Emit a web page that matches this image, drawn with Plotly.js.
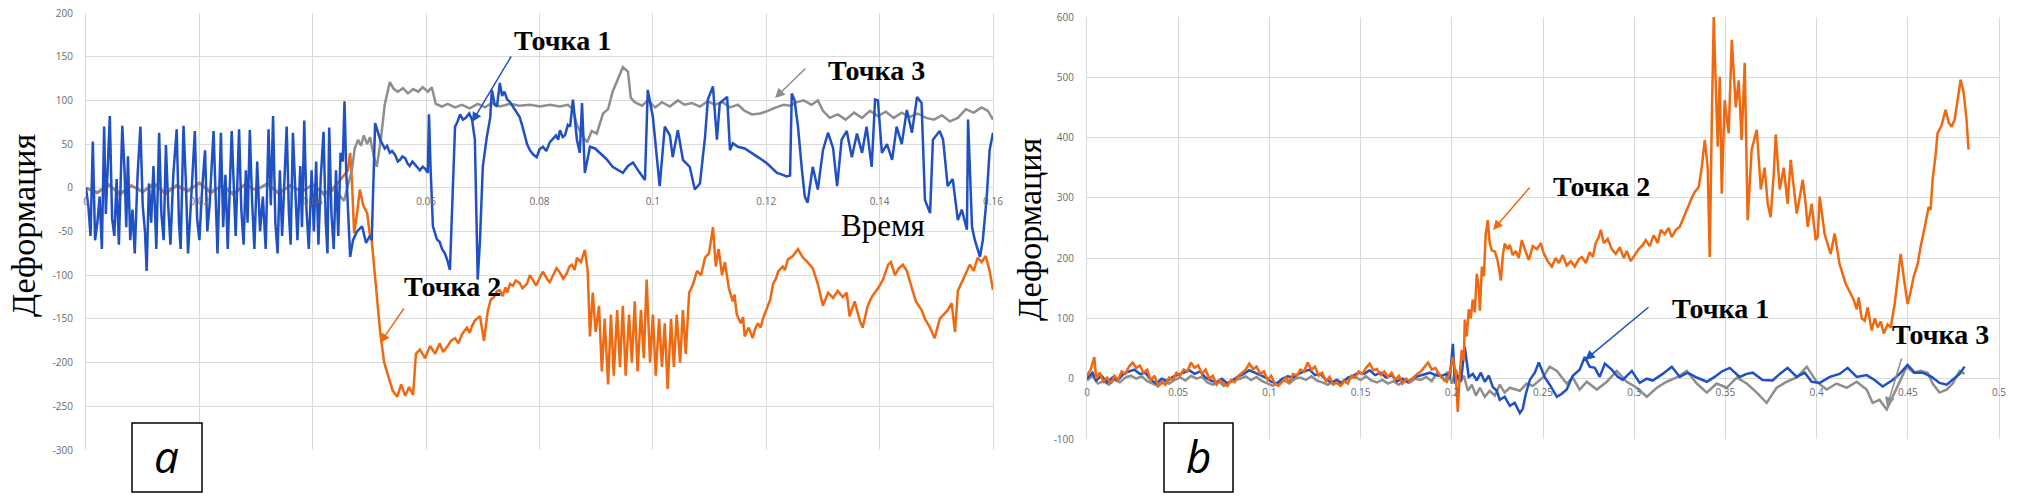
<!DOCTYPE html>
<html>
<head>
<meta charset="utf-8">
<script src="https://cdn.plot.ly/plotly-3.0.1.min.js"></script>
<style>
html,body{margin:0;padding:0;background:#ffffff;}
#chart{width:2020px;height:496px;}
</style>
</head>
<body>
<div id="chart"></div>
<script>
// ---------- Panel a (left): time, deformation ----------
const aPoint1 = [
[0,0],[0.0004,-20],[0.0008,-55],[0.0012,53],[0.0016,-60],[0.0020,-40],[0.0024,-10],[0.0028,-70],[0.0032,70],[0.0035,-30],
[0.0042,82],[0.0046,-35],[0.0050,-55],[0.0054,10],[0.0058,-65],[0.0064,71],[0.0068,20],[0.0071,-45],[0.0074,36],[0.0078,-60],
[0.0082,-25],[0.0086,-75],[0.0091,15],[0.0096,70],[0.0100,-20],[0.0104,-50],[0.0107,-95],[0.0111,5],[0.0115,-40],[0.0119,25],
[0.0124,-70],[0.0129,63],[0.0133,-30],[0.0137,-60],[0.0141,49],[0.0145,-20],[0.0149,-65],[0.0154,15],[0.0160,67],[0.0164,-40],
[0.0167,-70],[0.0172,71],[0.0176,10],[0.0180,-75],[0.0184,-30],[0.0188,20],[0.0192,65],[0.0196,-35],[0.0200,-60],[0.0205,0],
[0.0210,43],[0.0214,-50],[0.0218,-20],[0.0225,65],[0.0229,-10],[0.0232,-75],[0.0238,63],[0.0242,-45],[0.0246,15],[0.0250,-70],
[0.0257,65],[0.0261,5],[0.0264,-55],[0.0270,67],[0.0274,-25],[0.0278,-65],[0.0282,20],[0.0285,-40],[0.0289,66],[0.0293,-15],
[0.0297,-70],[0.0302,30],[0.0307,-50],[0.0312,-10],[0.0317,-70],[0.0322,67],[0.0326,-20],[0.0330,82],[0.0334,-40],[0.0338,-75],
[0.0342,20],[0.0346,-55],[0.0350,10],[0.0354,70],[0.0358,-30],[0.0361,-65],[0.0365,63],[0.0369,-10],[0.0373,-60],[0.0378,25],
[0.0381,-45],[0.0385,77],[0.0389,-25],[0.0393,-70],[0.0398,20],[0.0402,-50],[0.0406,30],[0.0410,-65],[0.0414,10],[0.0419,64],
[0.0423,-40],[0.0426,-75],[0.0429,69],[0.0433,-30],[0.0437,-70],[0.0441,20],[0.0445,-55],[0.0449,40],[0.0453,30],[0.0456,99],
[0.0459,20],[0.0466,-79],[0.0471,-60],[0.0478,-50],[0.0487,-44],[0.0494,-63],[0.0501,-55],[0.0504,-60],[0.0510,74],[0.0519,55],
[0.0523,50],[0.0527,45],[0.0531,48],[0.0536,40],[0.0540,42],[0.0545,38],[0.0550,30],[0.0554,32],[0.0558,36],[0.0563,34],[0.0567,28],
[0.0571,25],[0.0576,30],[0.0580,27],[0.0585,22],[0.0589,20],[0.0594,24],[0.0598,22],[0.0603,17],
[0.0605,84],[0.0608,20],[0.0612,-44],[0.0619,-59],[0.0624,-62],[0.0628,-70],[0.0633,-75],[0.0637,-82],[0.0642,-94],[0.0651,70],[0.0655,75],[0.0660,84],[0.0665,78],[0.0670,80],
[0.0676,85],[0.0681,78],[0.0686,55],[0.0691,-105],[0.0695,-60],[0.0700,24],[0.0707,58],[0.0713,80],[0.0716,112],[0.0721,95],[0.0725,93],
[0.0730,120],[0.0734,105],[0.0738,110],[0.0743,101],[0.0748,98],[0.0753,93],[0.0759,88],[0.0765,81],[0.0770,70],[0.0774,58],[0.0778,50],[0.0783,43],[0.0789,38],[0.0795,35],[0.0800,44],[0.0806,47],[0.0812,42],[0.0818,52],
[0.0823,56],[0.0829,60],[0.0833,55],[0.0836,66],[0.0841,58],[0.0845,60],[0.0850,72],[0.0854,70],[0.0859,101],[0.0866,55],[0.0871,40],[0.0875,97],[0.0880,17],[0.0889,47],
[0.0898,45],[0.0907,40],[0.0918,33],[0.0929,24],[0.0938,20],[0.0947,17],[0.0956,25],[0.0965,29],[0.0976,18],[0.0986,9],[0.0991,112],[0.1000,81],[0.1012,2],[0.1021,70],[0.1030,60],
[0.1035,35],[0.1044,66],[0.1053,32],[0.1065,24],[0.1074,-2],[0.1083,5],[0.1092,58],[0.1097,101],[0.1106,116],[0.1113,55],
[0.1118,97],[0.1131,104],[0.1136,43],[0.1141,51],[0.1150,47],[0.1162,45],[0.1169,42],[0.1176,40],[0.1188,34],[0.1201,28],[0.1210,22],[0.1219,17],[0.1228,15],[0.1236,13],
[0.1242,14],[0.1245,108],[0.1250,100],[0.1256,70],[0.1263,20],[0.1268,-10],[0.1273,-17],[0.1282,24],[0.1291,-2],[0.1300,43],
[0.1309,63],[0.1318,45],[0.1325,2],[0.1333,55],[0.1342,65],[0.1351,35],[0.1360,62],[0.1369,40],[0.1377,70],[0.1386,24],
[0.1392,101],[0.1397,100],[0.1404,40],[0.1413,50],[0.1422,32],[0.1430,70],[0.1439,50],[0.1448,89],[0.1457,63],[0.1466,104],
[0.1474,97],[0.1480,-14],[0.1489,-29],[0.1494,55],[0.1506,65],[0.1512,55],[0.1520,2],[0.1529,10],[0.1538,-37],[0.1545,-25],
[0.1554,-48],[0.1556,78],[0.1563,-45],[0.1568,-60],[0.1577,-79],[0.1582,-60],[0.1589,-10],[0.1594,43],[0.1600,63]
];
const aPoint2 = [
[0,0],[0.002,-6],[0.004,4],[0.006,-8],[0.008,3],[0.010,-5],[0.012,5],[0.014,-7],[0.016,2],[0.018,-4],[0.020,6],[0.022,-6],
[0.024,3],[0.026,-8],[0.028,4],[0.030,-3],[0.032,5],[0.034,-7],[0.036,3],[0.038,-5],[0.040,4],[0.042,-8],[0.044,2],
[0.0462,20],[0.0466,40],[0.0469,10],[0.0473,-52],[0.0478,-30],[0.0483,-2],[0.0489,-20],[0.0496,-29],[0.0501,-55],[0.0504,-60],
[0.0511,-110],[0.0519,-166],[0.0526,-200],[0.0533,-216],[0.0541,-232],[0.0549,-239],[0.0556,-225],[0.0563,-238],[0.0570,-228],
[0.0577,-237],[0.0582,-190],[0.0589,-185],[0.0598,-195],[0.0607,-181],[0.0616,-190],[0.0624,-178],[0.0630,-188],[0.0637,-182],[0.0644,-175],[0.0651,-172],
[0.0657,-178],[0.0663,-168],[0.0668,-164],[0.0672,-160],[0.0677,-166],[0.0681,-158],[0.0686,-152],[0.0690,-150],[0.0695,-147],[0.0702,-175],[0.0709,-140],[0.0714,-128],[0.0720,-125],[0.0725,-118],[0.0730,-117],
[0.0735,-124],[0.0740,-114],[0.0743,-120],[0.0748,-110],[0.0753,-112],[0.0758,-106],[0.0765,-109],[0.0770,-115],[0.0778,-110],[0.0783,-100],[0.0788,-105],[0.0794,-112],[0.0801,-102],[0.0806,-96],[0.0813,-104],[0.0818,-108],[0.0824,-100],[0.0830,-92],[0.0836,-97],
[0.0842,-104],[0.0848,-98],[0.0853,-90],[0.0857,-88],[0.0862,-94],[0.0866,-80],[0.0873,-85],[0.0880,-71],[0.0885,-95],[0.0889,-170],[0.0894,-120],[0.0899,-165],
[0.0905,-135],[0.0910,-210],[0.0915,-150],[0.0921,-225],[0.0926,-145],[0.0931,-215],[0.0937,-140],[0.0942,-205],[0.0947,-135],
[0.0952,-215],[0.0958,-145],[0.0963,-200],[0.0968,-130],[0.0973,-210],[0.0979,-140],[0.0984,-195],[0.0989,-105],[0.0995,-200],
[0.1000,-145],[0.1005,-215],[0.1011,-150],[0.1016,-205],[0.1021,-155],[0.1026,-230],[0.1032,-150],[0.1037,-205],[0.1042,-145],
[0.1048,-200],[0.1053,-140],[0.1058,-190],[0.1064,-120],[0.1071,-110],[0.1078,-95],[0.1085,-100],[0.1092,-80],[0.1099,-75],
[0.1106,-45],[0.1111,-90],[0.1116,-70],[0.1122,-100],[0.1127,-85],[0.1134,-115],[0.1141,-130],[0.1144,-122],[0.1148,-145],[0.1155,-155],[0.1159,-148],
[0.1162,-170],[0.1169,-160],[0.1176,-172],[0.1180,-162],[0.1185,-155],[0.1190,-160],[0.1194,-150],[0.1203,-135],[0.1207,-128],[0.1212,-110],[0.1217,-104],[0.1221,-96],[0.1229,-90],[0.1233,-94],
[0.1238,-82],[0.1247,-78],[0.1252,-74],[0.1256,-70],[0.1261,-76],[0.1265,-80],[0.1273,-85],[0.1282,-92],[0.1286,-100],[0.1291,-110],[0.1300,-135],[0.1309,-120],
[0.1318,-126],[0.1326,-118],[0.1335,-125],[0.1342,-120],[0.1347,-147],[0.1356,-130],[0.1365,-152],[0.1370,-160],[0.1379,-135],
[0.1386,-125],[0.1397,-115],[0.1406,-105],[0.1415,-88],[0.1420,-85],[0.1427,-100],[0.1434,-92],[0.1441,-88],[0.1448,-95],
[0.1457,-115],[0.1464,-130],[0.1474,-140],[0.1480,-150],[0.1489,-160],[0.1497,-172],[0.1506,-150],[0.1513,-145],[0.1520,-140],
[0.1527,-132],[0.1533,-165],[0.1538,-118],[0.1545,-108],[0.1552,-100],[0.1559,-88],[0.1566,-95],[0.1573,-80],[0.1580,-85],
[0.1587,-78],[0.1594,-95],[0.1600,-117]
];
const aPoint3 = [
[0,0],[0.002,-5],[0.004,3],[0.006,-6],[0.008,2],[0.010,-4],[0.012,4],[0.014,-5],[0.016,3],[0.018,-3],[0.020,5],[0.022,-4],
[0.024,2],[0.026,-6],[0.028,3],[0.030,-2],[0.032,4],[0.034,-5],[0.036,2],[0.038,-4],[0.040,3],[0.042,-6],[0.044,-2],[0.0455,-15],
[0.0469,20],[0.0474,45],[0.0480,55],[0.0485,48],[0.0490,60],[0.0496,50],[0.0501,58],[0.0508,35],[0.0513,24],[0.0520,55],
[0.0527,95],[0.0536,121],[0.0543,113],[0.0550,110],[0.0559,114],[0.0568,108],[0.0577,113],[0.0586,110],[0.0594,115],[0.0603,110],
[0.0610,115],[0.0617,96],[0.0628,93],[0.0638,96],[0.0651,92],[0.0663,95],[0.0677,91],[0.0691,96],[0.0704,92],[0.0716,97],
[0.0730,93],[0.0748,96],[0.0765,94],[0.0783,95],[0.0801,93],[0.0818,95],[0.0836,93],[0.0850,95],[0.0859,90],[0.0866,72],
[0.0875,60],[0.0884,52],[0.0892,65],[0.0901,62],[0.0912,85],[0.0921,90],[0.0929,110],[0.0938,125],[0.0947,138],[0.0956,133],
[0.0961,103],[0.0968,98],[0.0981,94],[0.0991,100],[0.1004,92],[0.1016,98],[0.1030,93],[0.1044,100],[0.1056,95],[0.1069,97],
[0.1083,93],[0.1097,99],[0.1109,95],[0.1123,98],[0.1136,92],[0.1150,95],[0.1162,88],[0.1175,84],[0.1189,85],[0.1203,88],
[0.1217,92],[0.1231,95],[0.1242,94],[0.1254,98],[0.1266,100],[0.1280,95],[0.1291,100],[0.1300,88],[0.1312,80],[0.1326,84],
[0.1340,78],[0.1355,86],[0.1369,80],[0.1383,88],[0.1397,82],[0.1411,87],[0.1425,80],[0.1439,86],[0.1453,81],[0.1467,85],
[0.1482,80],[0.1496,78],[0.1510,83],[0.1524,76],[0.1538,80],[0.1552,90],[0.1566,86],[0.1580,92],[0.1591,88],[0.1600,78]
];
const aYTicks = [200,150,100,50,0,-50,-100,-150,-200,-250,-300];
const aYTickText = ["200","150","100","50","0","-50","-100","-150","-200","-250","-300"];
const aXTicks = [0,0.02,0.04,0.06,0.08,0.1,0.12,0.14,0.16];

// ---------- Panel b (right): time, deformation ----------
const bPoint1 = [
[0,0],[0.003,10],[0.005,-3],[0.008,5],[0.011,-6],[0.014,2],[0.017,-2],[0.020,8],[0.023,12],[0.026,15],[0.029,8],[0.032,10],
[0.035,-2],[0.038,-8],[0.041,0],[0.044,-4],[0.047,3],[0.050,6],[0.053,10],[0.056,14],[0.059,8],[0.062,12],[0.065,2],[0.068,-3],
[0.071,-6],[0.074,0],[0.077,-8],[0.080,-2],[0.083,4],[0.086,8],[0.089,14],[0.092,10],[0.095,6],[0.098,2],[0.101,-5],[0.104,-8],
[0.107,0],[0.110,4],[0.113,2],[0.116,8],[0.119,12],[0.122,15],[0.125,6],[0.128,8],[0.131,-2],[0.134,-6],[0.137,-2],[0.140,-8],
[0.143,2],[0.146,5],[0.149,10],[0.152,8],[0.155,14],[0.158,6],[0.161,10],[0.164,2],[0.167,6],[0.170,-4],[0.173,0],[0.176,-6],
[0.179,2],[0.182,5],[0.185,8],[0.188,10],[0.191,6],[0.194,4],[0.197,8],
[0.1989,0],[0.2006,58],[0.2017,-8],[0.2033,5],[0.2050,-5],[0.2071,53],[0.2093,3],[0.2115,8],[0.2137,-3],[0.2159,10],[0.2181,-5],
[0.2203,5],[0.2225,-14],[0.2247,-20],[0.2263,-35],[0.2290,-30],[0.2318,-45],[0.2345,-40],[0.2373,-57],[0.2389,-50],[0.2406,-25],
[0.2428,-2],[0.2455,10],[0.2477,27],[0.2510,2],[0.2537,-10],[0.2576,-30],[0.2603,-25],[0.2630,-18],[0.2663,5],[0.2701,15],
[0.2729,36],[0.2756,20],[0.2784,18],[0.2811,3],[0.2839,25],[0.2877,15],[0.2910,3],[0.2937,-2],[0.2987,13],[0.3030,-7],
[0.3069,0],[0.3102,-3],[0.3156,8],[0.3206,20],[0.3250,3],[0.3293,10],[0.3343,2],[0.3398,-5],[0.3441,3],[0.3480,12],[0.3524,18],
[0.3578,3],[0.3617,8],[0.3650,10],[0.3704,-2],[0.3759,-3],[0.3798,8],[0.3841,18],[0.3891,3],[0.3935,10],[0.3973,-5],[0.4017,-7],
[0.4072,3],[0.4126,8],[0.4170,18],[0.4220,3],[0.4274,6],[0.4318,-2],[0.4362,-13],[0.4417,-2],[0.4455,8],[0.4499,23],[0.4537,10],
[0.4581,10],[0.4631,3],[0.4674,-7],[0.4713,-10],[0.4746,-2],[0.4784,8],[0.4811,20]
];
const bPoint2 = [
[0,5],[0.002,15],[0.004,36],[0.005,0],[0.007,10],[0.009,-5],[0.011,2],[0.013,-8],[0.015,5],[0.017,-2],[0.019,12],[0.021,8],
[0.023,20],[0.025,27],[0.027,18],[0.029,22],[0.031,10],[0.033,15],[0.035,-3],[0.037,5],[0.039,-12],[0.041,-5],[0.043,-10],
[0.045,2],[0.047,-2],[0.049,10],[0.051,5],[0.053,15],[0.055,12],[0.057,27],[0.059,18],[0.061,22],[0.063,8],[0.065,15],[0.067,0],
[0.069,5],[0.071,-10],[0.073,-3],[0.075,-8],[0.077,-12],[0.079,-2],[0.081,-6],[0.083,5],[0.085,10],[0.087,15],[0.089,25],
[0.091,16],[0.093,20],[0.095,8],[0.097,12],[0.099,-2],[0.101,5],[0.103,-8],[0.105,-12],[0.107,-4],[0.109,2],[0.111,-6],[0.113,8],
[0.115,5],[0.117,15],[0.119,12],[0.121,27],[0.123,15],[0.125,20],[0.127,5],[0.129,10],[0.131,-5],[0.133,3],[0.135,-10],[0.137,-6],
[0.139,-12],[0.141,-4],[0.143,-8],[0.145,5],[0.147,2],[0.149,12],[0.151,8],[0.153,18],[0.155,25],[0.157,14],[0.159,16],[0.161,6],
[0.163,12],[0.165,3],[0.167,10],[0.169,-2],[0.171,5],[0.173,-8],[0.175,0],[0.177,-5],[0.179,2],[0.181,8],[0.183,12],[0.185,20],
[0.187,27],[0.189,15],[0.191,18],[0.193,8],[0.195,0],
[0.1973,-5],[0.1989,10],[0.2006,36],[0.2022,5],[0.2033,-55],[0.2044,10],[0.2055,48],[0.2066,30],[0.2071,98],[0.2082,70],
[0.2093,115],[0.2104,100],[0.2115,131],[0.2126,110],[0.2137,174],[0.2148,150],[0.2154,113],[0.2165,186],[0.2176,170],[0.2186,240],
[0.2197,263],[0.2208,225],[0.2219,213],[0.2236,211],[0.2252,195],[0.2269,163],[0.2280,205],[0.2290,224],[0.2307,215],[0.2318,222],
[0.2334,205],[0.2351,212],[0.2367,200],[0.2384,230],[0.2400,215],[0.2422,197],[0.2444,220],[0.2466,215],[0.2488,225],[0.2504,208],
[0.2526,195],[0.2548,186],[0.2570,200],[0.2587,192],[0.2608,205],[0.2630,188],[0.2652,195],[0.2674,186],[0.2696,198],[0.2713,202],
[0.2735,192],[0.2756,210],[0.2773,202],[0.2789,225],[0.2806,235],[0.2817,247],[0.2833,225],[0.2855,232],[0.2877,215],[0.2899,207],
[0.2921,218],[0.2943,200],[0.2959,212],[0.2981,195],[0.3003,205],[0.3025,215],[0.3047,222],[0.3063,230],[0.3085,220],[0.3107,238],
[0.3129,225],[0.3146,247],[0.3167,240],[0.3189,250],[0.3206,235],[0.3228,247],[0.3250,252],[0.3272,269],[0.3288,282],[0.3310,296],
[0.3332,310],[0.3354,318],[0.3370,350],[0.3387,396],[0.3403,350],[0.3414,202],[0.3425,420],[0.3436,600],[0.3447,490],[0.3458,385],
[0.3469,501],[0.3480,307],[0.3496,462],[0.3518,407],[0.3535,562],[0.3557,450],[0.3573,495],[0.3589,396],[0.3606,524],[0.3622,263],
[0.3644,380],[0.3672,413],[0.3694,314],[0.3715,350],[0.3732,290],[0.3748,268],[0.3765,340],[0.3776,405],[0.3798,314],[0.3820,350],
[0.3841,290],[0.3858,363],[0.3874,320],[0.3891,274],[0.3907,300],[0.3924,330],[0.3940,290],[0.3951,252],[0.3973,290],[0.3995,230],
[0.4006,235],[0.4017,302],[0.4044,240],[0.4077,207],[0.4099,241],[0.4126,190],[0.4159,158],[0.4181,145],[0.4203,131],[0.4220,115],
[0.4231,135],[0.4247,100],[0.4264,96],[0.4280,118],[0.4302,80],[0.4319,100],[0.4335,85],[0.4352,95],[0.4368,75],[0.4389,90],
[0.4406,85],[0.4428,124],[0.4444,160],[0.4461,207],[0.4477,170],[0.4488,150],[0.4499,124],[0.4516,145],[0.4532,169],[0.4554,190],
[0.4570,219],[0.4592,250],[0.4614,285],[0.4625,280],[0.4636,330],[0.4652,370],[0.4663,407],[0.4685,420],[0.4707,446],[0.4724,425],
[0.4740,418],[0.4757,430],[0.4773,465],[0.4790,496],[0.4806,475],[0.4822,430],[0.4833,380]
];
const bPoint3 = [
[0,-3],[0.003,5],[0.006,-8],[0.009,-4],[0.012,-10],[0.015,-2],[0.018,-6],[0.021,2],[0.024,5],[0.027,0],[0.030,4],[0.033,-4],
[0.036,-8],[0.039,-12],[0.042,-5],[0.045,-8],[0.048,-2],[0.051,2],[0.054,-3],[0.057,5],[0.060,0],[0.063,3],[0.066,-6],[0.069,-10],
[0.072,-4],[0.075,-12],[0.078,-6],[0.081,-2],[0.084,0],[0.087,4],[0.090,-2],[0.093,3],[0.096,-4],[0.099,-8],[0.102,-12],[0.105,-6],
[0.108,-3],[0.111,-8],[0.114,0],[0.117,2],[0.120,-2],[0.123,4],[0.126,-3],[0.129,-6],[0.132,-10],[0.135,-5],[0.138,-9],[0.141,-2],
[0.144,0],[0.147,3],[0.150,-2],[0.153,4],[0.156,-3],[0.159,-6],[0.162,-2],[0.165,-8],[0.168,-4],[0.171,-10],[0.174,-3],[0.177,-6],
[0.180,0],[0.183,-2],[0.186,3],[0.189,-4],[0.192,10],[0.195,2],
[0.1962,-5],[0.1978,12],[0.2000,-8],[0.2022,15],[0.2044,-5],[0.2066,5],[0.2088,-20],[0.2110,-10],[0.2132,-28],[0.2154,-15],
[0.2181,-30],[0.2208,-20],[0.2236,-28],[0.2263,-10],[0.2290,-23],[0.2318,-15],[0.2373,-20],[0.2411,-8],[0.2444,-12],[0.2499,2],
[0.2537,20],[0.2576,13],[0.2630,-8],[0.2663,2],[0.2701,-18],[0.2740,-5],[0.2795,-18],[0.2850,-5],[0.2904,13],[0.2959,-5],
[0.3014,-15],[0.3069,-30],[0.3124,-15],[0.3178,-5],[0.3233,2],[0.3288,13],[0.3343,-8],[0.3398,-23],[0.3452,-8],[0.3507,-15],
[0.3562,2],[0.3617,-8],[0.3672,-23],[0.3726,-40],[0.3781,-15],[0.3836,-5],[0.3891,2],[0.3946,20],[0.4000,-5],[0.4055,-18],
[0.4110,-8],[0.4165,-15],[0.4220,-5],[0.4274,-18],[0.4307,-40],[0.4345,-35],[0.4384,-51],[0.4417,-30],[0.4455,-5],[0.4494,20],
[0.4531,10],[0.4570,13],[0.4609,10],[0.4636,-8],[0.4674,-23],[0.4713,-18],[0.4746,-8],[0.4784,13],[0.4811,8]
];
const bYTicks = [600,500,400,300,200,100,0,-100];
const bYTickText = ["600","500","400","300","200","100","0","-100"];
const bXTicks = [0,0.05,0.1,0.15,0.2,0.25,0.3,0.35,0.4,0.45,0.5];

const seriesNames = ["Точка 1","Точка 2","Точка 3"];
const yTitle = "Деформация";
const xTitle = "Время";

// ---------- drawing ----------
const W = 2020, H = 496;
const px = v => v / W;
const py = v => 1 - v / H;
const BLUE = '#1f50c4', ORANGE = '#f0680f', GRAY = '#8e8e8e';
const GRID = '#dadada';
const TICKFONT = {family: 'Open Sans, sans-serif', size: 10, color: '#6a6a6a'};

function line(data, name, color, xa, ya) {
  return {type: 'scatter', mode: 'lines', name: name,
    x: data.map(p => p[0]), y: data.map(p => p[1]),
    xaxis: xa, yaxis: ya, line: {color: color, width: 2.5}, showlegend: false, hoverinfo: 'skip'};
}

const traces = [
  line(aPoint2, seriesNames[1], ORANGE, 'x', 'y'),
  line(aPoint3, seriesNames[2], GRAY, 'x', 'y'),
  line(aPoint1, seriesNames[0], BLUE, 'x', 'y'),
  line(bPoint3, seriesNames[2], GRAY, 'x2', 'y2'),
  line(bPoint1, seriesNames[0], BLUE, 'x2', 'y2'),
  line(bPoint2, seriesNames[1], ORANGE, 'x2', 'y2')
];

function xAxis(domain, range, ticks, pos) {
  return {domain: domain, range: range, anchor: 'free', position: pos,
    tickvals: ticks, showgrid: true, gridcolor: GRID, gridwidth: 1, zeroline: false, showline: false,
    ticks: 'outside', ticklen: 4, tickcolor: 'rgba(0,0,0,0)', tickfont: TICKFONT, fixedrange: true};
}
function yAxis(domain, range, ticks, text, anchor) {
  return {domain: domain, range: range, anchor: anchor, tickvals: ticks, ticktext: text,
    showgrid: true, gridcolor: GRID, gridwidth: 1, zeroline: false,
    showline: true, mirror: true, linecolor: GRID, linewidth: 1,
    ticks: 'outside', ticklen: 10, tickcolor: 'rgba(0,0,0,0)', tickfont: TICKFONT, fixedrange: true};
}

const serif = 'Liberation Serif, Times New Roman, serif';
function label(text, cx, cy, size, bold) {
  return {xref: 'paper', yref: 'paper', x: px(cx), y: py(cy), xanchor: 'center', yanchor: 'middle',
    text: bold ? '<b>' + text + '</b>' : text, showarrow: false,
    font: {family: serif, size: size, color: '#000'}};
}
function arrow(tx, ty, hx, hy, color) {
  return {xref: 'paper', yref: 'paper', x: px(hx), y: py(hy), ax: tx - hx, ay: ty - hy,
    text: '', showarrow: true, arrowhead: 2, arrowsize: 1.3, arrowwidth: 1.5, arrowcolor: color, standoff: 0, startstandoff: 0};
}
function yTitleAnn(cx, cy) {
  return {xref: 'paper', yref: 'paper', x: px(cx), y: py(cy), xanchor: 'center', yanchor: 'middle',
    text: yTitle, textangle: -90, showarrow: false, font: {family: serif, size: 34, color: '#000'}};
}
function boxShape(x0, y0, x1, y1) {
  return {type: 'rect', xref: 'paper', yref: 'paper', x0: px(x0), x1: px(x1), y0: py(y1), y1: py(y0),
    line: {color: '#000', width: 1.5}, fillcolor: '#ffffff', layer: 'above'};
}
function panelLetter(t, cx, cy) {
  return {xref: 'paper', yref: 'paper', x: px(cx), y: py(cy), xanchor: 'center', yanchor: 'middle',
    text: '<i>' + t + '</i>', showarrow: false, font: {family: 'Open Sans, sans-serif', size: 44, color: '#000'}};
}

const layout = {
  width: W, height: H, margin: {l: 0, r: 0, t: 0, b: 0},
  paper_bgcolor: '#ffffff', plot_bgcolor: '#ffffff', showlegend: false,
  xaxis: xAxis([px(86), px(993)], [0, 0.16], aXTicks, py(188)),
  yaxis: yAxis([py(450), py(13)], [-300, 200], aYTicks, aYTickText, 'x'),
  xaxis2: xAxis([px(1087), px(1999)], [0, 0.5], bXTicks, py(379)),
  yaxis2: yAxis([py(439), py(17)], [-100, 600], bYTicks, bYTickText, 'x2'),
  shapes: [boxShape(132, 423, 202, 492), boxShape(1164, 423, 1233, 492)],
  annotations: [
    yTitleAnn(24, 226), yTitleAnn(1030, 230),
    label(xTitle, 883, 226, 31, false),
    arrow(512, 55, 472, 122, BLUE), label(seriesNames[0], 562, 40, 28, true),
    arrow(807, 67, 775, 98, GRAY), label(seriesNames[2], 876, 70, 28, true),
    arrow(405, 307, 380, 343, ORANGE), label(seriesNames[1], 452, 286, 28, true),
    arrow(1531, 186, 1493, 230, ORANGE), label(seriesNames[1], 1601, 186, 28, true),
    arrow(1650, 306, 1585, 360, BLUE), label(seriesNames[0], 1720, 308, 28, true),
    arrow(1902, 357, 1887, 407, GRAY), label(seriesNames[2], 1940, 334, 28, true),
    panelLetter('a', 166, 456), panelLetter('b', 1198, 456)
  ]
};

Plotly.newPlot('chart', traces, layout, {staticPlot: true, displayModeBar: false});
</script>
</body>
</html>
